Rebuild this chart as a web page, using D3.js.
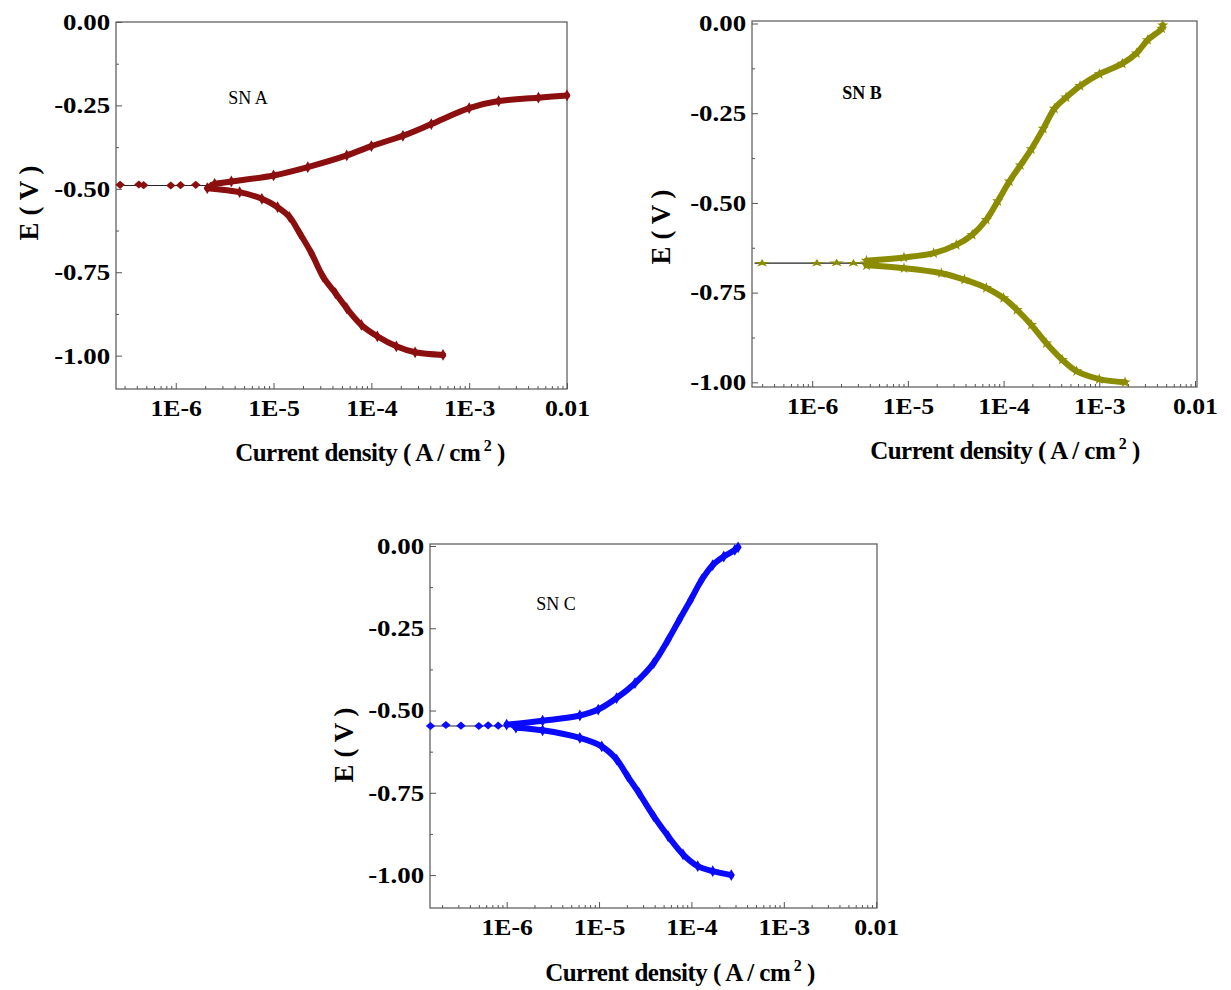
<!DOCTYPE html>
<html>
<head>
<meta charset="utf-8">
<script src="https://cdn.jsdelivr.net/npm/d3@7"></script>
<style>
body { margin: 0; background: #fff; }
svg { display: block; }
text { font-family: "Liberation Serif", "Times New Roman", serif; }
</style>
</head>
<body>
<div id="chart"></div>
<script>
// tick labels
var majorTicks = [1e-6, 1e-5, 1e-4, 1e-3, 1e-2]
var majorLabels = ["1E-6", "1E-5", "1E-4", "1E-3", "0.01"]
var yTicks = [0, -0.25, -0.5, -0.75, -1]
var yMinor = [-0.125, -0.375, -0.625, -0.875]
var panelNames = ["SN A", "SN B", "SN C"]
var panelColors = ["#8b0f0f", "#8c8c00", "#0a0aff"]

// SN A  (current density A/cm2, potential V)
var aFlatI = [2.7e-7, 4.2e-7, 4.7e-7, 8.9e-7, 1.12e-6, 1.6e-6, 2.3e-6]
var aFlatE = [-0.488, -0.487, -0.489, -0.490, -0.489, -0.488, -0.490]
var aCorr = [2.6e-7, 3.0e-6, -0.490]
var aAnoI = [2.5e-6, 3.7e-6, 1e-5, 2.24e-5, 5.6e-5, 1e-4, 2.1e-4, 4.1e-4, 1e-3, 2.0e-3, 5.1e-3, 1e-2]
var aAnoE = [-0.485, -0.478, -0.46, -0.435, -0.40, -0.372, -0.341, -0.306, -0.258, -0.237, -0.227, -0.22]
var aCatI = [2.1e-6, 4.5e-6, 7.6e-6, 1.1e-5, 1.45e-5, 1.86e-5, 2.45e-5, 3.2e-5, 4.3e-5, 5.6e-5, 7.9e-5, 1.15e-4, 1.8e-4, 2.8e-4, 5.4e-4]
var aCatE = [-0.498, -0.51, -0.53, -0.555, -0.584, -0.634, -0.694, -0.763, -0.813, -0.858, -0.908, -0.942, -0.972, -0.99, -0.998]

// SN B
var bFlatI = [3.0e-7, 1.12e-6, 1.8e-6, 2.7e-6, 3.8e-6]
var bFlatE = [-0.668, -0.668, -0.667, -0.668, -0.667]
var bCorr = [2.5e-7, 5e-6, -0.668]
var bAnoI = [3.7e-6, 9.1e-6, 1.86e-5, 3.2e-5, 4.7e-5, 6.6e-5, 8.7e-5, 1.15e-4, 1.5e-4, 1.95e-4, 2.6e-4, 3.4e-4, 4.5e-4, 6.3e-4, 1e-3, 1.74e-3, 2.45e-3, 3.2e-3, 4.5e-3, 4.6e-3]
var bAnoE = [-0.661, -0.652, -0.64, -0.617, -0.589, -0.547, -0.495, -0.44, -0.395, -0.35, -0.293, -0.237, -0.206, -0.174, -0.141, -0.112, -0.083, -0.046, -0.014, -0.005]
var bCatI = [3.7e-6, 9.1e-6, 2.24e-5, 3.9e-5, 6.6e-5, 1e-4, 1.38e-4, 1.95e-4, 2.8e-4, 4.1e-4, 5.8e-4, 1e-3, 1.86e-3]
var bCatE = [-0.674, -0.682, -0.696, -0.714, -0.737, -0.765, -0.798, -0.84, -0.891, -0.937, -0.969, -0.991, -1.0]

// SN C
var cFlatI = [1.5e-7, 2.2e-7, 3.2e-7, 5e-7, 6.3e-7, 8.1e-7, 1.2e-6]
var cFlatE = [-0.547, -0.544, -0.546, -0.547, -0.545, -0.546, -0.547]
var cCorr = [1.5e-7, 1.5e-6, -0.547]
var cAnoI = [1e-6, 2.45e-6, 6.2e-6, 9.8e-6, 1.55e-5, 2.45e-5, 3.9e-5, 5.6e-5, 7.4e-5, 9.8e-5, 1.29e-4, 1.7e-4, 2.24e-4, 2.95e-4, 3.2e-4]
var cAnoE = [-0.543, -0.531, -0.515, -0.497, -0.462, -0.417, -0.356, -0.285, -0.224, -0.164, -0.103, -0.058, -0.032, -0.012, -0.004]
var cCatI = [1.26e-6, 2.45e-6, 6.2e-6, 1.07e-5, 1.55e-5, 2.04e-5, 2.7e-5, 3.9e-5, 5.6e-5, 8.1e-5, 1.17e-4, 1.7e-4, 2.7e-4]
var cCatE = [-0.552, -0.56, -0.583, -0.609, -0.649, -0.70, -0.75, -0.821, -0.882, -0.937, -0.973, -0.988, -1.0]

var svg = d3.select("#chart").append("svg")
    .attr("width", 1231)
    .attr("height", 990)

function zip(I, E) {
    var out = []
    for (var i = 0; i < I.length; i++) out.push([I[i], E[i]])
    return out
}

// one panel of the figure
function drawPanel(p) {
    var x = d3.scaleLog().domain(p.xDomain).range([p.left, p.right])
    var y = d3.scaleLinear().domain(p.yDomain).range([p.bottom, p.top])
    var g = svg.append("g")

    // frame
    g.append("rect")
        .attr("x", p.left).attr("y", p.top)
        .attr("width", p.right - p.left).attr("height", p.bottom - p.top)
        .attr("fill", "none").attr("stroke", "#555").attr("stroke-width", 1.2)

    // y axis, ticks inward
    var yAxis = g.append("g")
        .attr("transform", "translate(" + p.left + ",0)")
        .call(d3.axisLeft(y).tickValues(yTicks).tickSize(-6).tickPadding(6)
            .tickFormat(d3.format(".2f")))
    yAxis.select(".domain").remove()
    yAxis.selectAll("text")
        .style("font-size", "23px").style("font-weight", "bold")
        .text(function(d) { return d3.format(".2f")(d).replace("\u2212", "-") })
        .attr("transform", "scale(1.17,1)").attr("x", -5)
    g.append("g")
        .attr("transform", "translate(" + p.left + ",0)")
        .call(d3.axisLeft(y).tickValues(yMinor).tickSize(-3).tickFormat(""))
        .select(".domain").remove()

    // x axis (log)
    var xAxis = g.append("g")
        .attr("transform", "translate(0," + p.bottom + ")")
        .call(d3.axisBottom(x).tickValues(majorTicks).tickSize(-6).tickPadding(11)
            .tickFormat(function(d, i) { return majorLabels[i] }))
    xAxis.select(".domain").remove()
    xAxis.selectAll("text")
        .style("font-size", "23px").style("font-weight", "bold")
        .attr("transform", "scale(1.12,1)")
    var minors = x.ticks().filter(function(d) {
        var l = Math.log10(d)
        return Math.abs(l - Math.round(l)) > 1e-6
    })
    g.append("g")
        .attr("transform", "translate(0," + p.bottom + ")")
        .call(d3.axisBottom(x).tickValues(minors).tickSize(-3).tickFormat(""))
        .select(".domain").remove()
    g.selectAll(".tick line").attr("stroke", "#555")

    // corrosion potential thin line
    g.append("line")
        .attr("x1", x(p.corr[0])).attr("x2", x(p.corr[1]))
        .attr("y1", y(p.corr[2])).attr("y2", y(p.corr[2]))
        .attr("stroke", "#222").attr("stroke-width", 1.2)

    var line = d3.line()
        .x(function(d) { return x(d[0]) })
        .y(function(d) { return y(d[1]) })
        .curve(d3.curveCatmullRom)

    var branches = [zip(p.anoI, p.anoE), zip(p.catI, p.catE)]
    branches.forEach(function(b) {
        g.append("path")
            .datum(b)
            .attr("d", line)
            .attr("fill", "none")
            .attr("stroke", p.color)
            .attr("stroke-width", 6)
            .attr("stroke-linecap", "round")
        g.selectAll(null)
            .data(b)
            .enter().append("path")
            .attr("d", d3.symbol().type(p.symbol).size(40))
            .attr("transform", function(d) { return "translate(" + x(d[0]) + "," + y(d[1]) + ")" })
            .attr("fill", p.color)
    })

    g.selectAll(null)
        .data(zip(p.flatI, p.flatE))
        .enter().append("path")
        .attr("d", d3.symbol().type(p.symbol).size(30))
        .attr("transform", function(d) { return "translate(" + x(d[0]) + "," + y(d[1]) + ") scale(1.6,0.8)" })
        .attr("fill", p.color)

    // sample name
    g.append("text")
        .attr("x", p.name[0]).attr("y", p.name[1])
        .attr("text-anchor", "middle")
        .style("font-size", "18px")
        .style("font-weight", p.nameBold ? "bold" : "normal")
        .text(p.name[2])

    // axis titles
    var xt = g.append("text")
        .attr("x", p.xTitle[0]).attr("y", p.xTitle[1])
        .attr("text-anchor", "middle")
        .style("font-size", "25px").style("font-weight", "bold")
        .style("letter-spacing", "-0.5px")
    xt.append("tspan").text("Current density ( A / cm")
    xt.append("tspan").attr("dy", -10).style("font-size", "16px").text(" 2")
    xt.append("tspan").attr("dy", 10).text(" )")

    g.append("text")
        .attr("transform", "translate(" + p.yTitle[0] + "," + p.yTitle[1] + ") rotate(-90)")
        .attr("text-anchor", "middle")
        .style("font-size", "27px").style("font-weight", "bold")
        .text("E ( V )")
}

drawPanel({
    left: 116, right: 567, top: 22, bottom: 389,
    xDomain: [2.45e-7, 1e-2], yDomain: [-1.1, 0],
    color: panelColors[0], symbol: d3.symbolDiamond,
    flatI: aFlatI, flatE: aFlatE, corr: aCorr,
    anoI: aAnoI, anoE: aAnoE, catI: aCatI, catE: aCatE,
    name: [248, 104, panelNames[0]], nameBold: false,
    xTitle: [370, 461], yTitle: [38, 203]
})

drawPanel({
    left: 752, right: 1197, top: 21, bottom: 387,
    xDomain: [2.35e-7, 1.05e-2], yDomain: [-1.013, 0.007],
    color: panelColors[1], symbol: d3.symbolStar,
    flatI: bFlatI, flatE: bFlatE, corr: bCorr,
    anoI: bAnoI, anoE: bAnoE, catI: bCatI, catE: bCatE,
    name: [862, 99, panelNames[1]], nameBold: true,
    xTitle: [1005, 459], yTitle: [670, 227]
})

drawPanel({
    left: 430, right: 877, top: 544, bottom: 908,
    xDomain: [1.48e-7, 1.02e-2], yDomain: [-1.10, 0.006],
    color: panelColors[2], symbol: d3.symbolDiamond,
    flatI: cFlatI, flatE: cFlatE, corr: cCorr,
    anoI: cAnoI, anoE: cAnoE, catI: cCatI, catE: cCatE,
    name: [556, 610, panelNames[2]], nameBold: false,
    xTitle: [680, 981], yTitle: [353, 745]
})
</script>
</body>
</html>
